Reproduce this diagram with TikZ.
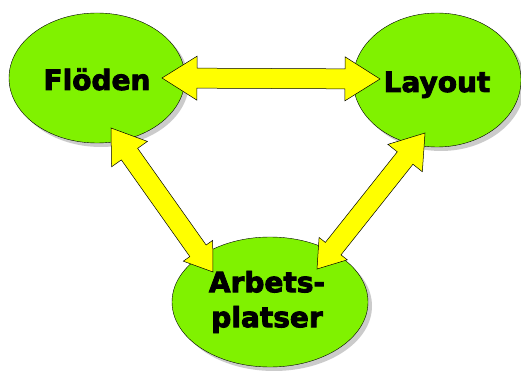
\documentclass[tikz,border=0pt]{standalone}
\usepackage{fontspec}
\setmainfont{DejaVu Sans}[BoldFeatures={FakeBold=3}]
\usetikzlibrary{shapes.geometric,shadows,calc}

\definecolor{blobgreen}{RGB}{128,242,0}
\definecolor{arrowyellow}{RGB}{255,255,0}

\tikzset{
  blob/.style={ellipse, draw=black, fill=blobgreen, inner sep=0pt,
    drop shadow={shadow xshift=4pt, shadow yshift=-4pt, fill=black!40}},
  word/.style={font=\bfseries\fontsize{28}{35}\selectfont, align=center, inner sep=0pt},
  fatarrow/.style={draw=black, fill=arrowyellow, line width=0.5pt, line join=miter}
}

% 粗双箭头: #1 起点尖端, #2 终点尖端, #3/#4 起点箭头长/半宽, #5/#6 终点箭头长/半宽
\newcommand{\fatarrow}[6]{%
  \filldraw[fatarrow] (#1)
    -- ($(#1)!#3!(#2)!#4!90:(#2)$)
    -- ($(#1)!#3!(#2)!10pt!90:(#2)$)
    -- ($(#2)!#5!(#1)!10pt!-90:(#1)$)
    -- ($(#2)!#5!(#1)!#6!-90:(#1)$)
    -- (#2)
    -- ($(#2)!#5!(#1)!#6!90:(#1)$)
    -- ($(#2)!#5!(#1)!10pt!90:(#1)$)
    -- ($(#1)!#3!(#2)!10pt!-90:(#2)$)
    -- ($(#1)!#3!(#2)!#4!-90:(#2)$)
    -- cycle;}

\begin{document}
\begin{tikzpicture}[x=1pt, y=-1pt]

    % 画布大小
    \useasboundingbox[fill=white] (0,0) rectangle (521,371);

    % 三个椭圆
    \node[blob, minimum width=176pt, minimum height=130pt] (floeden) at (97,78) {}; % 左上
    \node[blob, minimum width=168pt, minimum height=134pt] (layout) at (437,80) {}; % 右上
    \node[blob, minimum width=196pt, minimum height=130pt] (arbets) at (270,302) {}; % 下方

    % 箭头尖端
    \coordinate (fl-r) at (162,78);
    \coordinate (la-l) at (380,79);
    \coordinate (fl-b) at (111,128);
    \coordinate (ar-l) at (213,272);
    \coordinate (la-b) at (425,133);
    \coordinate (ar-r) at (317,269);

    % 黄色双箭头
    \fatarrow{fl-r}{la-l}{35pt}{22pt}{35pt}{22pt}; % 流动 <-> 布局
    \fatarrow{fl-b}{ar-l}{32pt}{22pt}{26pt}{18pt}; % 流动 <-> 工位
    \fatarrow{la-b}{ar-r}{32pt}{22pt}{26pt}{18pt}; % 布局 <-> 工位

    % 文字
    \node[word, anchor=base] (floeden-t) at (97,90) {Flöden};
    \node[word, anchor=base] (layout-t) at (437,92) {Layout};
    \node[word] (arbets-t) at (267,302) {Arbets-\\platser};

\end{tikzpicture}
\end{document}
